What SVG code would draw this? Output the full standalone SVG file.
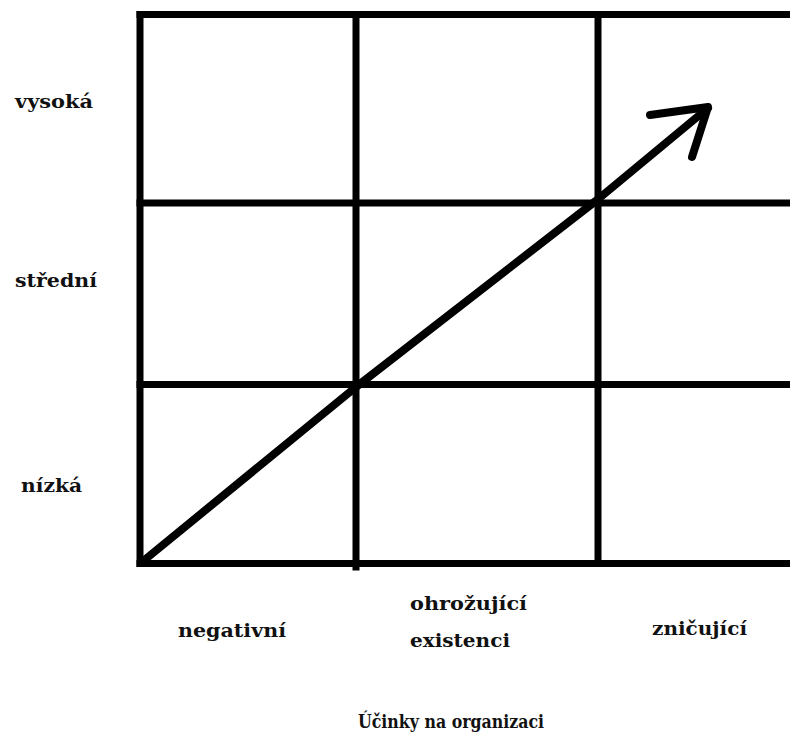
<svg xmlns="http://www.w3.org/2000/svg" width="790" height="735" viewBox="0 0 790 735">
<style>
.g{stroke:#000;stroke-width:7;fill:none;stroke-linecap:square}
.a{stroke:#000;stroke-width:8;fill:none;stroke-linecap:round;stroke-linejoin:round}
text{font-family:"DejaVu Serif","Liberation Serif",serif;font-weight:bold;font-size:19px;fill:#111}
</style>
<rect width="790" height="735" fill="#fff"/>
<g id="grid">
<line class="g" x1="140" y1="14.5" x2="795" y2="14.5"/>
<line class="g" x1="140" y1="203" x2="795" y2="203"/>
<line class="g" x1="140" y1="384.5" x2="795" y2="384.5"/>
<line class="g" x1="140" y1="563.5" x2="795" y2="563.5"/>
<line class="g" x1="140" y1="14.5" x2="140" y2="563.5"/>
<line class="g" x1="356" y1="14.5" x2="356" y2="567"/>
<line class="g" x1="598" y1="14.5" x2="598" y2="563.5"/>
</g>
<g id="connectors">
<polyline class="a" points="142,562 356,387 597,200 708,108"/>
<polyline class="a" points="650,115 708,107 692,157"/>
</g>
<g id="labels-y">
<text id="vysoka" x="15" y="108" textLength="78" lengthAdjust="spacingAndGlyphs">vysoká</text>
<text id="stredni" x="15" y="287" textLength="82" lengthAdjust="spacingAndGlyphs">střední</text>
<text id="nizka" x="21" y="492" textLength="61" lengthAdjust="spacingAndGlyphs">nízká</text>
</g>
<g id="labels-x">
<text id="negativni" x="178" y="637" textLength="108" lengthAdjust="spacingAndGlyphs">negativní</text>
<text id="ohrozujici" x="410" y="610" textLength="117" lengthAdjust="spacingAndGlyphs">ohrožující</text>
<text id="existenci" x="410" y="647" textLength="100" lengthAdjust="spacingAndGlyphs">existenci</text>
<text id="znicujici" x="652" y="635" textLength="95" lengthAdjust="spacingAndGlyphs">zničující</text>
<text id="ucinky" x="358" y="728" textLength="186" lengthAdjust="spacingAndGlyphs">Účinky na organizaci</text>
</g>
</svg>
